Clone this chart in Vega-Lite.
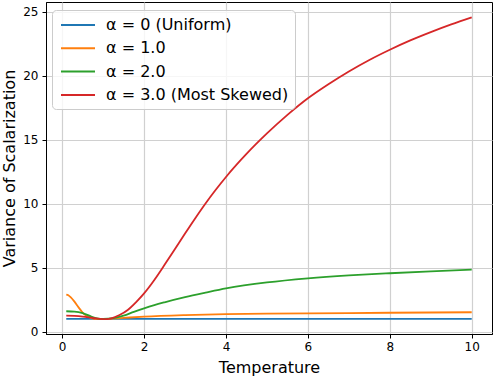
{
  "$schema": "https://vega.github.io/schema/vega-lite/v6.json",
  "width": 446,
  "height": 332,
  "autosize": {"type": "none"},
  "padding": {"left": 46, "top": 2, "right": 2, "bottom": 42},
  "background": "white",
  "config": {
    "font": "DejaVu Sans",
    "view": {"stroke": "black", "strokeWidth": 1},
    "axis": {
      "labelFont": "DejaVu Sans",
      "labelFontSize": 12,
      "labelColor": "black",
      "titleFont": "DejaVu Sans",
      "titleFontSize": 16,
      "titleFontWeight": "normal",
      "titleColor": "black",
      "tickColor": "black",
      "tickSize": 4,
      "domainColor": "black",
      "gridColor": "#d0d0d0",
      "gridWidth": 1.2
    }
  },
  "data": {
    "values": [
      {"T": 0.1, "V": 1.0, "s": "α = 0 (Uniform)"},
      {"T": 2, "V": 1.0, "s": "α = 0 (Uniform)"},
      {"T": 4, "V": 1.0, "s": "α = 0 (Uniform)"},
      {"T": 6, "V": 1.0, "s": "α = 0 (Uniform)"},
      {"T": 8, "V": 1.0, "s": "α = 0 (Uniform)"},
      {"T": 10, "V": 1.0, "s": "α = 0 (Uniform)"},

      {"T": 0.1, "V": 2.9, "s": "α = 1.0"},
      {"T": 0.15, "V": 2.85, "s": "α = 1.0"},
      {"T": 0.2, "V": 2.72, "s": "α = 1.0"},
      {"T": 0.3, "V": 2.35, "s": "α = 1.0"},
      {"T": 0.4, "V": 1.9, "s": "α = 1.0"},
      {"T": 0.5, "V": 1.5, "s": "α = 1.0"},
      {"T": 0.6, "V": 1.22, "s": "α = 1.0"},
      {"T": 0.7, "V": 1.07, "s": "α = 1.0"},
      {"T": 0.8, "V": 1.0, "s": "α = 1.0"},
      {"T": 1.0, "V": 0.98, "s": "α = 1.0"},
      {"T": 1.5, "V": 1.08, "s": "α = 1.0"},
      {"T": 2, "V": 1.18, "s": "α = 1.0"},
      {"T": 3, "V": 1.3, "s": "α = 1.0"},
      {"T": 4, "V": 1.37, "s": "α = 1.0"},
      {"T": 5, "V": 1.41, "s": "α = 1.0"},
      {"T": 6, "V": 1.44, "s": "α = 1.0"},
      {"T": 7, "V": 1.46, "s": "α = 1.0"},
      {"T": 8, "V": 1.48, "s": "α = 1.0"},
      {"T": 9, "V": 1.5, "s": "α = 1.0"},
      {"T": 10, "V": 1.52, "s": "α = 1.0"},

      {"T": 0.1, "V": 1.6, "s": "α = 2.0"},
      {"T": 0.3, "V": 1.57, "s": "α = 2.0"},
      {"T": 0.5, "V": 1.45, "s": "α = 2.0"},
      {"T": 0.7, "V": 1.2, "s": "α = 2.0"},
      {"T": 0.85, "V": 1.05, "s": "α = 2.0"},
      {"T": 1.0, "V": 1.0, "s": "α = 2.0"},
      {"T": 1.25, "V": 1.06, "s": "α = 2.0"},
      {"T": 1.5, "V": 1.25, "s": "α = 2.0"},
      {"T": 1.75, "V": 1.55, "s": "α = 2.0"},
      {"T": 2, "V": 1.83, "s": "α = 2.0"},
      {"T": 2.25, "V": 2.08, "s": "α = 2.0"},
      {"T": 2.5, "V": 2.3, "s": "α = 2.0"},
      {"T": 3, "V": 2.7, "s": "α = 2.0"},
      {"T": 3.5, "V": 3.05, "s": "α = 2.0"},
      {"T": 4, "V": 3.38, "s": "α = 2.0"},
      {"T": 5, "V": 3.85, "s": "α = 2.0"},
      {"T": 6, "V": 4.17, "s": "α = 2.0"},
      {"T": 7, "V": 4.4, "s": "α = 2.0"},
      {"T": 8, "V": 4.57, "s": "α = 2.0"},
      {"T": 9, "V": 4.72, "s": "α = 2.0"},
      {"T": 10, "V": 4.85, "s": "α = 2.0"},

      {"T": 0.1, "V": 1.25, "s": "α = 3.0 (Most Skewed)"},
      {"T": 0.3, "V": 1.23, "s": "α = 3.0 (Most Skewed)"},
      {"T": 0.5, "V": 1.18, "s": "α = 3.0 (Most Skewed)"},
      {"T": 0.75, "V": 1.07, "s": "α = 3.0 (Most Skewed)"},
      {"T": 1.0, "V": 0.98, "s": "α = 3.0 (Most Skewed)"},
      {"T": 1.2, "V": 1.05, "s": "α = 3.0 (Most Skewed)"},
      {"T": 1.4, "V": 1.3, "s": "α = 3.0 (Most Skewed)"},
      {"T": 1.6, "V": 1.7, "s": "α = 3.0 (Most Skewed)"},
      {"T": 1.8, "V": 2.3, "s": "α = 3.0 (Most Skewed)"},
      {"T": 2.0, "V": 3.0, "s": "α = 3.0 (Most Skewed)"},
      {"T": 2.25, "V": 4.05, "s": "α = 3.0 (Most Skewed)"},
      {"T": 2.5, "V": 5.23, "s": "α = 3.0 (Most Skewed)"},
      {"T": 2.75, "V": 6.45, "s": "α = 3.0 (Most Skewed)"},
      {"T": 3.0, "V": 7.68, "s": "α = 3.0 (Most Skewed)"},
      {"T": 3.25, "V": 8.88, "s": "α = 3.0 (Most Skewed)"},
      {"T": 3.5, "V": 10.03, "s": "α = 3.0 (Most Skewed)"},
      {"T": 3.75, "V": 11.1, "s": "α = 3.0 (Most Skewed)"},
      {"T": 4.0, "V": 12.1, "s": "α = 3.0 (Most Skewed)"},
      {"T": 4.5, "V": 13.9, "s": "α = 3.0 (Most Skewed)"},
      {"T": 5.0, "V": 15.5, "s": "α = 3.0 (Most Skewed)"},
      {"T": 5.5, "V": 16.95, "s": "α = 3.0 (Most Skewed)"},
      {"T": 6.0, "V": 18.25, "s": "α = 3.0 (Most Skewed)"},
      {"T": 6.5, "V": 19.35, "s": "α = 3.0 (Most Skewed)"},
      {"T": 7.0, "V": 20.35, "s": "α = 3.0 (Most Skewed)"},
      {"T": 7.5, "V": 21.25, "s": "α = 3.0 (Most Skewed)"},
      {"T": 8.0, "V": 22.05, "s": "α = 3.0 (Most Skewed)"},
      {"T": 8.5, "V": 22.78, "s": "α = 3.0 (Most Skewed)"},
      {"T": 9.0, "V": 23.43, "s": "α = 3.0 (Most Skewed)"},
      {"T": 9.5, "V": 24.03, "s": "α = 3.0 (Most Skewed)"},
      {"T": 10.0, "V": 24.58, "s": "α = 3.0 (Most Skewed)"}
    ]
  },
  "mark": {"type": "line", "strokeWidth": 1.8, "interpolate": "monotone"},
  "encoding": {
    "x": {
      "field": "T",
      "type": "quantitative",
      "title": "Temperature",
      "scale": {"domain": [-0.395, 10.495], "nice": false, "zero": false},
      "axis": {"values": [0, 2, 4, 6, 8, 10], "labelPadding": 3, "titlePadding": 7}
    },
    "y": {
      "field": "V",
      "type": "quantitative",
      "title": "Variance of Scalarization",
      "scale": {"domain": [-0.18, 25.78], "nice": false, "zero": false},
      "axis": {"values": [0, 5, 10, 15, 20, 25], "labelPadding": 4, "titlePadding": 5}
    },
    "color": {
      "field": "s",
      "type": "nominal",
      "title": null,
      "scale": {
        "domain": ["α = 0 (Uniform)", "α = 1.0", "α = 2.0", "α = 3.0 (Most Skewed)"],
        "range": ["#1f77b4", "#ff7f0e", "#2ca02c", "#d62728"]
      },
      "legend": {
        "orient": "none",
        "legendX": 6,
        "legendY": 8,
        "symbolType": "M-0.75,0H3.5",
        "symbolSize": 256,
        "symbolStrokeWidth": 2,
        "labelFont": "DejaVu Sans",
        "labelFontSize": 16,
        "labelColor": "black",
        "labelLimit": 400,
        "labelOffset": 30,
        "rowPadding": 6.3,
        "padding": 6,
        "fillColor": "rgba(255,255,255,0.8)",
        "strokeColor": "#cccccc",
        "cornerRadius": 4
      }
    }
  }
}
